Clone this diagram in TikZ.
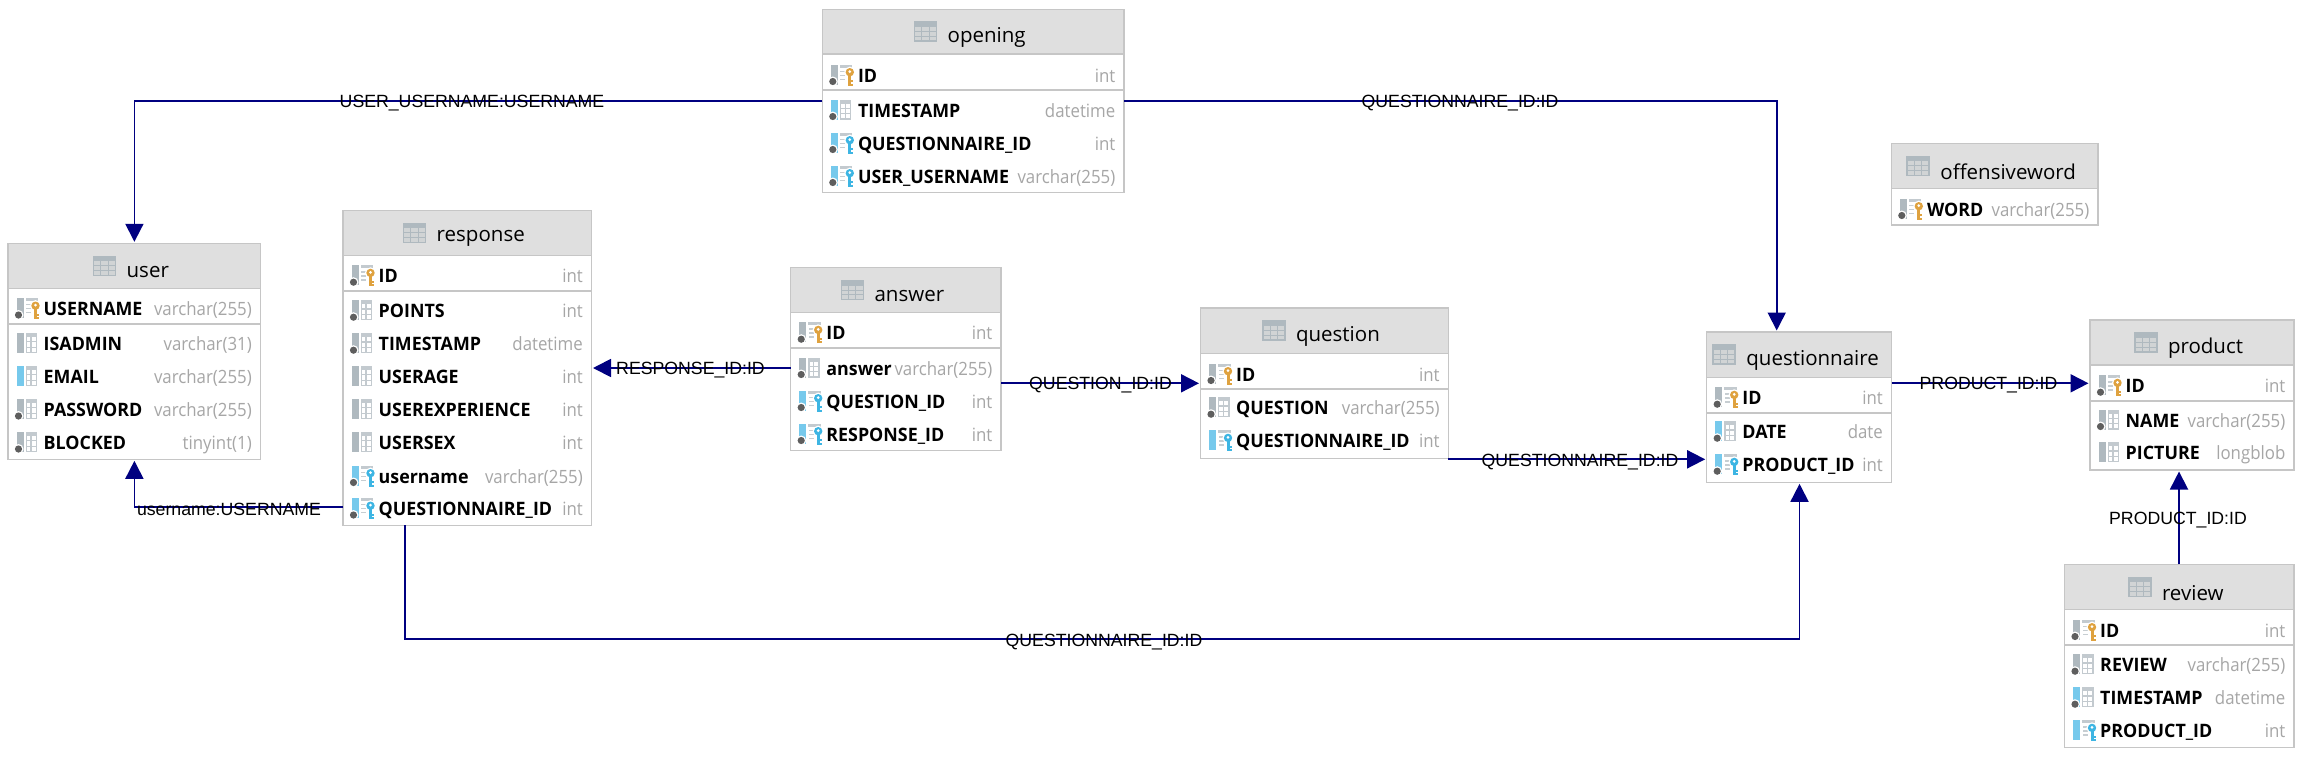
\documentclass[tikz,border=0pt]{standalone}
\usepackage{fontspec}
\setmainfont{Open Sans}
\newfontfamily\lblfont{Liberation Sans}
\newfontfamily\namefont[FakeStretch=0.965]{Open Sans}
\newfontfamily\typefont[FakeStretch=0.92]{Open Sans}
\usetikzlibrary{arrows.meta,calc}
\definecolor{hdrfill}{HTML}{DFDFDF}
\definecolor{edge}{HTML}{C6C6C6}
\definecolor{navyline}{HTML}{000080}
\definecolor{typegray}{HTML}{A6A6A6}
\definecolor{bargray}{HTML}{AFB9BF}
\definecolor{barblue}{HTML}{76C9EC}
\definecolor{keygold}{HTML}{DFA23F}
\definecolor{keyblue}{HTML}{3DB5E3}
\definecolor{dotgray}{HTML}{5E5E5E}
\newcommand\icobar[1]{\fill[#1] (0.5,-10.5) rectangle (7.5,9.5);}
\newcommand\icodot{\fill[white] (2.5,6.5) circle (5); \fill[dotgray] (2.5,6.5) circle (3.6);}
\newcommand\icotab{%
  \fill[bargray!75] (9.5,-10.5) rectangle (21,9.5);
  \fill[white] (10.8,-6.5) rectangle (14.4,-2.4);
  \fill[white] (15.6,-6.5) rectangle (19.7,-2.4);
  \fill[white] (10.8,-1.2) rectangle (14.4,3);
  \fill[white] (15.6,-1.2) rectangle (19.7,3);
  \fill[white] (10.8,4.2) rectangle (14.4,8.2);
  \fill[white] (15.6,4.2) rectangle (19.7,8.2);
}
\newcommand\icofade{%
  \fill[bargray!75] (9.5,-10.5) rectangle (22,-7.5);
  \fill[bargray!70] (10,-4.5) rectangle (15,-3.2);
  \fill[bargray!70] (10,-0.5) rectangle (15,0.8);
  \fill[bargray!70] (10,3.5) rectangle (15,4.8);
}
\newcommand\icokey[1]{%
  \fill[white] (19.5,-2.8) circle (5.6);
  \fill[white] (16.4,0) rectangle (23,11);
  \fill[#1] (19.5,-2.8) circle (4.2);
  \fill[white] (19.5,-3.4) circle (1.5);
  \fill[#1] (18,0) rectangle (21,10.5);
  \fill[#1] (21,5) rectangle (23,7);
  \fill[#1] (21,8.5) rectangle (23,10.5);
}
\tikzset{
  x=1pt,y=-1pt,
  ipk/.pic={\icobar{bargray}\icofade\icodot\icokey{keygold}},
  icold/.pic={\icobar{bargray}\icotab\icodot},
  icol/.pic={\icobar{bargray}\icotab},
  iblued/.pic={\icobar{barblue}\icotab\icodot},
  iblue/.pic={\icobar{barblue}\icotab},
  ifkd/.pic={\icobar{barblue}\icofade\icodot\icokey{keyblue}},
  ifk/.pic={\icobar{barblue}\icofade\icokey{keyblue}},
  itable/.pic={
    \fill[hdrfill!70!bargray] (0,-9.5) rectangle (22,9.5);
    \draw[bargray,line width=1.6] (0,-9.5) rectangle (22,9.5);
    \fill[bargray] (0,-9.5) rectangle (22,-4.5);
    \draw[bargray,line width=1] (0,0) -- (22,0) (0,4.8) -- (22,4.8)
      (7.3,-9.5) -- (7.3,9.5) (14.6,-9.5) -- (14.6,9.5);
  },
  tablebox/.style={draw=edge,fill=white,line width=1.5pt,inner sep=0pt,outer sep=0pt},
  hdrline/.style={draw=edge,line width=1.5pt},
  titletext/.style={font=\fontsize{20.5}{24}\selectfont,text=black,inner sep=0pt},
  rowname/.style={font=\namefont\fontsize{18.5}{22}\selectfont\bfseries,text=black,inner sep=0pt,anchor=base west},
  rowtype/.style={font=\typefont\fontsize{18.3}{22}\selectfont,text=typegray,inner sep=0pt,anchor=base east},
  fklabel/.style={font=\lblfont\fontsize{17.7}{20}\selectfont,text=black,inner sep=0pt},
  fkline/.style={draw=navyline,line width=1.8pt,-{Triangle[length=18pt,width=18pt]},shorten >=1.5pt},
}
% name, x0, y0, x1, y1, header bottom, pk separator (0 = none), title
\newcommand\etable[8]{%
  \def\curT{#1}\def\curL{#2}\def\curR{#4}%
  \pgfmathsetmacro\cw{#4-#2}\pgfmathsetmacro\ch{#5-#3}%
  \node[tablebox,minimum width=\cw pt,minimum height=\ch pt] (#1) at ({(#2+#4)/2},{(#3+#5)/2}) {};
  \fill[hdrfill] (#2,#3) rectangle (#4,#6);
  \draw[hdrline] (#2,#3) rectangle (#4,#5);
  \draw[hdrline] (#2,#6) -- (#4,#6);
  \ifnum#7>0 \draw[hdrline] (#2,#7) -- (#4,#7);\fi
  \node[titletext] (#1-title) at ({(#2+#4)/2+13.5},{(#3+#6)/2+6}) {#8};
  \pic at ($(#1-title.west)+(-33,-6)$) {itable};
}
% id, y, icon, text, type
\newcommand\erow[5]{%
  \pic at (\curL+8,#2) {#3};
  \node[rowname] (\curT-#1) at (\curL+35.5,#2+7) {#4};
  \node[rowtype] (\curT-#1-type) at (\curR-8.5,#2+7) {#5};
}
\begin{document}
\begin{tikzpicture}
\useasboundingbox (0,0) rectangle (2314,769);
% tables
\etable{opening}{822.3}{9.3}{1124}{192.3}{54}{90}{opening}
\erow{id}{75}{ipk}{ID}{int}
\erow{ts}{110}{iblued}{TIMESTAMP}{datetime}
\erow{qid}{143}{ifkd}{QUESTIONNAIRE\_ID}{int}
\erow{uu}{176}{ifkd}{USER\_USERNAME}{varchar(255)}

\etable{user}{8}{243.3}{260.5}{459.3}{288.3}{324}{user}
\erow{un}{308.5}{ipk}{USERNAME}{varchar(255)}
\erow{adm}{343.5}{icol}{ISADMIN}{varchar(31)}
\erow{em}{376.5}{iblue}{EMAIL}{varchar(255)}
\erow{pw}{409.5}{icold}{PASSWORD}{varchar(255)}
\erow{bl}{442.5}{icold}{BLOCKED}{tinyint(1)}

\etable{response}{343}{210.3}{591.5}{525.3}{255.3}{291}{response}
\erow{id}{275.7}{ipk}{ID}{int}
\erow{pt}{310.7}{icold}{POINTS}{int}
\erow{ts}{343.7}{icold}{TIMESTAMP}{datetime}
\erow{ag}{376.5}{icol}{USERAGE}{int}
\erow{ex}{409.5}{icol}{USEREXPERIENCE}{int}
\erow{sx}{442.5}{icol}{USERSEX}{int}
\erow{un}{476}{ifkd}{username}{varchar(255)}
\erow{qid}{508.5}{ifkd}{QUESTIONNAIRE\_ID}{int}

\etable{answer}{790.7}{267.7}{1001}{450.3}{312.3}{348}{answer}
\erow{id}{332.7}{ipk}{ID}{int}
\erow{an}{368}{icold}{answer}{varchar(255)}
\erow{qid}{401}{ifkd}{QUESTION\_ID}{int}
\erow{rid}{434}{ifkd}{RESPONSE\_ID}{int}

\etable{question}{1200.5}{308}{1448.3}{458.3}{353.3}{389}{question}
\erow{id}{374}{ipk}{ID}{int}
\erow{qu}{407.7}{icold}{QUESTION}{varchar(255)}
\erow{qid}{440.7}{ifk}{QUESTIONNAIRE\_ID}{int}

\etable{questionnaire}{1706.7}{332}{1891.5}{482.3}{377.3}{413}{questionnaire}
\erow{id}{397.7}{ipk}{ID}{int}
\erow{dt}{431.7}{iblued}{DATE}{date}
\erow{pid}{464.7}{ifkd}{PRODUCT\_ID}{int}

\etable{product}{2090}{320}{2294}{470}{365}{401}{product}
\erow{id}{385.7}{ipk}{ID}{int}
\erow{nm}{420}{icold}{NAME}{varchar(255)}
\erow{pc}{452.7}{icol}{PICTURE}{longblob}

\etable{review}{2064.5}{564.3}{2294}{747.3}{609.3}{645}{review}
\erow{id}{630}{ipk}{ID}{int}
\erow{rv}{664.7}{icold}{REVIEW}{varchar(255)}
\erow{ts}{697.7}{iblued}{TIMESTAMP}{datetime}
\erow{pid}{730.7}{ifk}{PRODUCT\_ID}{int}

\etable{offensiveword}{1891.3}{143.3}{2098}{225}{188.3}{0}{offensiveword}
\erow{wd}{209}{ipk}{WORD}{varchar(255)}

% connectors
\draw[fkline] (opening.west |- 0,101.3) -| (134.4,0 |- user.north);
\draw[fkline] (opening.east |- 0,101.3) -| (1776.7,0 |- questionnaire.north);
\draw[fkline] (answer.west |- 0,368) -- (response.east |- 0,368);
\draw[fkline] (answer.east |- 0,383.3) -- (question.west |- 0,383.3);
\draw[fkline] (question.east |- 0,459.3) -- (questionnaire.west |- 0,459.3);
\draw[fkline] (questionnaire.east |- 0,383.3) -- (product.west |- 0,383.3);
\draw[fkline] (2179,0 |- review.north) -- (2179,0 |- product.south);
\draw[fkline] (response.west |- 0,507.3) -| (134.4,0 |- user.south);
\draw[fkline] (405.3,0 |- response.south) |- (800,639.3) -| (1799.5,0 |- questionnaire.south);

% connector labels
\node[fklabel] (l1) at (472,103.5) {USER\_USERNAME:USERNAME};
\node[fklabel] (l2) at (1460,103.5) {QUESTIONNAIRE\_ID:ID};
\node[fklabel] (l3) at (690.5,370.5) {RESPONSE\_ID:ID};
\node[fklabel] (l4) at (1100.5,385.5) {QUESTION\_ID:ID};
\node[fklabel] (l5) at (1580,462.5) {QUESTIONNAIRE\_ID:ID};
\node[fklabel] (l6) at (1988.5,385.5) {PRODUCT\_ID:ID};
\node[fklabel] (l7) at (2178,520) {PRODUCT\_ID:ID};
\node[fklabel] (l8) at (229,509.5) {username:USERNAME};
\node[fklabel] (l9) at (1104,642.5) {QUESTIONNAIRE\_ID:ID};
\end{tikzpicture}
\end{document}
